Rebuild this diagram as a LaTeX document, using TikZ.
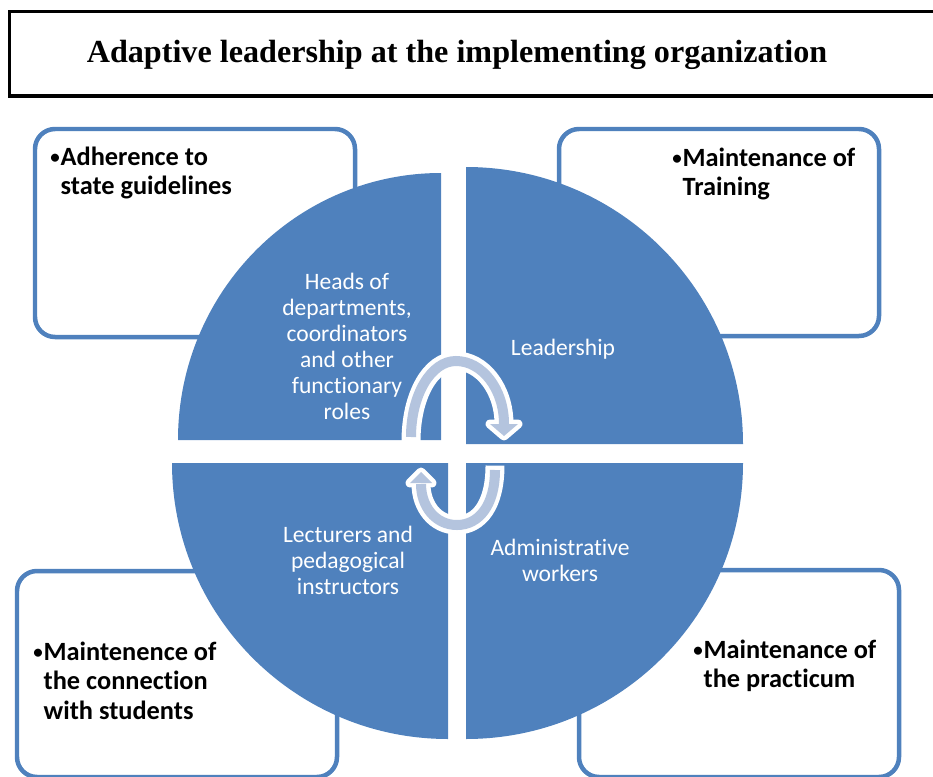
\documentclass[tikz,border=0pt]{standalone}
\usepackage{fontspec}
\setmainfont[Ligatures=NoCommon]{Carlito}
\newfontfamily\ttlserif{Liberation Serif}
\usetikzlibrary{positioning,calc}
\definecolor{pieblue}{RGB}{79,129,189}
\definecolor{arcblue}{RGB}{180,196,222}
\newcommand{\ttlfnt}{\ttlserif\bfseries\fontsize{18.3}{21}\selectfont}
\newcommand{\boxfnt}{\bfseries\fontsize{15}{17.07}\selectfont}
\newcommand{\piefnt}{\fontsize{13.4}{14.8}\selectfont}
\newcommand{\bul}{\raisebox{0.15ex}{\scalebox{0.72}{\textbullet}}\hspace{0.5pt}}

\begin{document}
\begin{tikzpicture}
[x=0.02cm, y=-0.02cm,
quarter/.style={fill=pieblue},
titlebox/.style={draw=black, line width=1.9pt},
sidebox/.style={draw=pieblue, line width=2.56pt, rounded corners=0.4cm, fill=white},
boxlab/.style={anchor=base west, inner sep=0pt, font=\boxfnt},
pielab/.style={text=white, align=center, inner sep=0pt, font=\piefnt},
cyclewhite/.style={draw=white, line width=10.8pt, shorten <=-2.5pt},
cycleblue/.style={draw=arcblue, line width=5.7pt},
headwhite/.style={draw=white, fill=white, line width=5.1pt, line join=round},
headblue/.style={fill=arcblue}]
\useasboundingbox (0,0) rectangle (933,777);
%%%%%%%%%%
%%%%% title
\draw[titlebox] (9.5,11.5) rectangle (960,96);
\node (title) [anchor=base, font=\ttlfnt] at (457,63)
{Adaptive leadership at the implementing organization};
%%%%% side boxes
\draw[sidebox] (35,129) rectangle (355,337);
\draw[sidebox] (559,129) rectangle (879,336);
\draw[sidebox] (17,571) rectangle (337,777);
\draw[sidebox] (579,570) rectangle (899,777);
%% box texts
\node (guide) [boxlab] at (50,165)
{\bul\begin{tabular}[t]{@{}l@{}}Adherence to\\state guidelines\end{tabular}};
\node (train) [boxlab] at (672,166)
{\bul\begin{tabular}[t]{@{}l@{}}Maintenance of\\Training\end{tabular}};
\node (conn) [boxlab] at (33,660)
{\bul\begin{tabular}[t]{@{}l@{}}Maintenence of\\the connection\\with students\end{tabular}};
\node (pract) [boxlab] at (693,658)
{\bul\begin{tabular}[t]{@{}l@{}}Maintenance of\\the practicum\end{tabular}};
%%%%% pie
\coordinate (tlc) at (441,440);
\coordinate (trc) at (466,444);
\coordinate (brc) at (466,463);
\coordinate (blc) at (448,463);
\fill[quarter] (tlc) -- (178,440) arc[start angle=180, end angle=270, x radius=263, y radius=267] -- cycle;
\fill[quarter] (trc) -- (466,167) arc[start angle=270, end angle=360, x radius=277, y radius=277] -- cycle;
\fill[quarter] (brc) -- (743,463) arc[start angle=0, end angle=90, x radius=277, y radius=276] -- cycle;
\fill[quarter] (blc) -- (448,739) arc[start angle=90, end angle=180, x radius=276, y radius=276] -- cycle;
%% pie texts
\node (heads) [pielab] at (347,346)
{Heads of\\departments,\\coordinators\\and other\\functionary\\roles};
\node (lead) [pielab] at (563,349) {Leadership};
\node (lect) [pielab] at (348,560) {Lecturers and\\pedagogical\\instructors};
\node (admin) [pielab] at (560,560) {Administrative\\workers};
%%%%% cycle arrows
\coordinate (ta) at (411,437);
\coordinate (tp) at (456,361);
\coordinate (tb) at (504,424);
\coordinate (th1) at (490,424);
\coordinate (th2) at (518,424);
\coordinate (tt) at (504,436);
\coordinate (ba) at (495,470);
\coordinate (bp) at (457,525);
\coordinate (bb) at (421,484);
\coordinate (bh1) at (410,483);
\coordinate (bh2) at (432,483);
\coordinate (bt) at (421,472);
%% white borders
\draw[cyclewhite] (ta) .. controls +(0,-42) and +(-25,0) .. (tp)
  .. controls +(26,0) and +(0,-35) .. (tb);
\draw[cyclewhite] (ba) .. controls +(0,35) and +(22,0) .. (bp)
  .. controls +(-22,0) and +(0,22) .. (bb);
\draw[headwhite] (th1) -- (tt) -- (th2) -- cycle;
\draw[headwhite] (bh1) -- (bt) -- (bh2) -- cycle;
%% light bands
\draw[cycleblue] (ta) .. controls +(0,-42) and +(-25,0) .. (tp)
  .. controls +(26,0) and +(0,-35) .. (tb);
\draw[cycleblue] (ba) .. controls +(0,35) and +(22,0) .. (bp)
  .. controls +(-22,0) and +(0,22) .. (bb);
\fill[headblue] (th1) -- (tt) -- (th2) -- cycle;
\fill[headblue] (bh1) -- (bt) -- (bh2) -- cycle;
\end{tikzpicture}
\end{document}
